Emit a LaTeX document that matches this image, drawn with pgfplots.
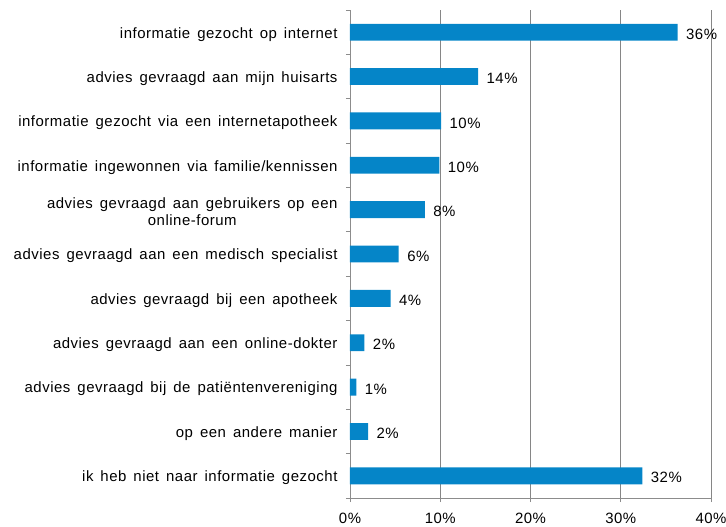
\documentclass[border=0pt]{standalone}
\usepackage{fontspec}
\setmainfont{Liberation Sans}[LetterSpace=3.5, WordSpace=1.5]
\usepackage{pgfplots}
\pgfplotsset{compat=1.18}
\definecolor{barblue}{HTML}{0585C8}
\definecolor{axisgray}{HTML}{8C8C8C}
\definecolor{gridgray}{HTML}{868686}
\begin{document}
\begin{tikzpicture}
\useasboundingbox (-350bp,-29bp) rectangle (376bp,498bp);
\begin{axis}[
  at={(0,0)}, anchor=south west,
  scale only axis,
  width=361bp, height=488bp,
  xbar,
  bar width=0.38,
  xmin=0, xmax=40,
  ymin=-0.5, ymax=10.5,
  y dir=reverse,
  axis x line*=bottom,
  axis y line*=left,
  axis line style={axisgray, line width=0.8pt, -},
  xtick={0,10,20,30,40},
  xticklabels={0\%,10\%,20\%,30\%,40\%},
  xmajorgrids,
  major grid style={gridgray, line width=0.8pt},
  ytick={0,...,10},
  yticklabels={
    informatie gezocht op internet,
    advies gevraagd aan mijn huisarts,
    informatie gezocht via een internetapotheek,
    informatie ingewonnen via familie/kennissen,
    {advies gevraagd aan gebruikers op een\\online-forum},
    advies gevraagd aan een medisch specialist,
    advies gevraagd bij een apotheek,
    advies gevraagd aan een online-dokter,
    advies gevraagd bij de patiëntenvereniging,
    op een andere manier,
    ik heb niet naar informatie gezocht},
  minor ytick={-0.5,0.5,...,10.5},
  tick align=outside,
  major tick length=4bp,
  minor tick length=4bp,
  y tick style={draw=none},
  minor y tick style={draw=axisgray, line width=0.8pt},
  x tick style={draw=axisgray, line width=0.8pt},
  yticklabel style={font=\fontsize{15}{17}\selectfont, align=center, xshift=-5bp, yshift=-2bp},
  xticklabel style={font=\fontsize{15}{17}\selectfont, yshift=-8bp},
  point meta=explicit symbolic,
  nodes near coords,
  every node near coord/.append style={font=\fontsize{15}{17}\selectfont, anchor=west, xshift=5bp, yshift=-2bp, text=black},
  clip=false,
]
\addplot[fill=barblue, draw=none] coordinates {
  (36.3,0) [36\%]
  (14.2,1) [14\%]
  (10.1,2) [10\%]
  (9.9,3) [10\%]
  (8.3,4) [8\%]
  (5.4,5) [6\%]
  (4.5,6) [4\%]
  (1.6,7) [2\%]
  (0.7,8) [1\%]
  (2.0,9) [2\%]
  (32.4,10) [32\%]
};
\end{axis}
\end{tikzpicture}
\end{document}
